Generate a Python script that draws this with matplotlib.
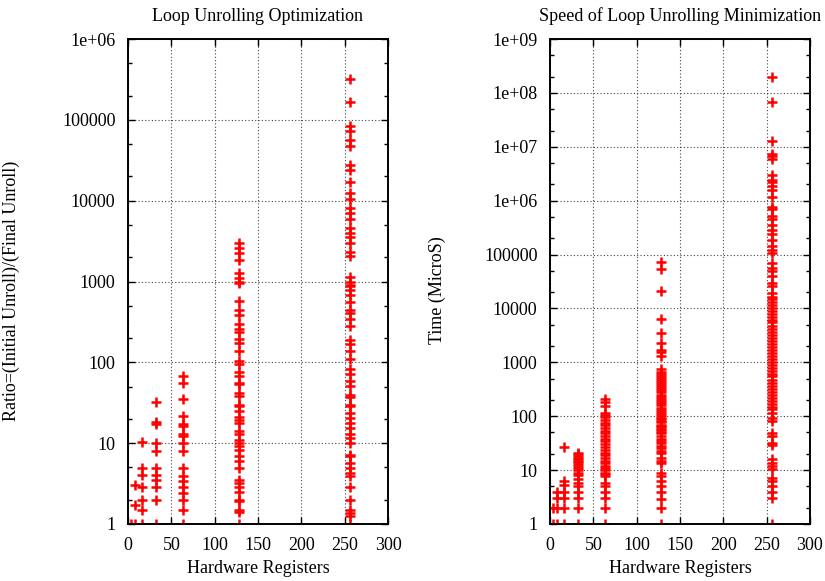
import numpy as np
import matplotlib
matplotlib.use("Agg")
from matplotlib import pyplot as plt
from matplotlib.ticker import LogLocator, FixedLocator, NullFormatter, FixedFormatter

# Left panel: Ratio=(Initial Unroll)/(Final Unroll) per register count
ratio_x4 = [1]
ratio_x8 = [1, 1.7, 3]
ratio_x16 = [1, 1.5, 2, 2.9, 4, 4.9, 10.4]
ratio_x32 = [1, 2, 2.9, 3.5, 4, 4.9, 8, 10, 17.5, 18.3, 32]
ratio_x64 = [1, 1.5, 2, 2.4, 2.9, 3.4, 3.9, 4.9, 8, 10, 12.2, 12.9, 16.3,
             17.5, 21.5, 35, 55, 68]
ratio_x128 = [1, 1.4, 1.5, 1.9, 2, 2.5, 2.9, 3.2, 3.5, 4.9, 6, 6.9, 8.3, 9.2,
              10, 11, 13, 14, 18, 19.5, 21, 25, 29, 30, 38, 42, 54, 56, 68, 75,
              95, 104, 138, 175, 195, 235, 255, 295, 390, 450, 570, 950, 1000,
              1100, 1270, 1850, 2250, 2600, 3000]
ratio_x256 = [1, 1.24, 1.37, 1.5, 2, 2.9, 3.9, 4.3, 4.9, 5.7, 6.9, 7.2, 10,
              11.6, 12.9, 15.5, 18, 20.5, 23.5, 29, 30, 37, 40, 51, 59, 71, 82,
              109, 138, 167, 190, 280, 340, 410, 450, 550, 690, 790, 870, 910,
              1000, 1150, 2050, 2300, 3000, 3600, 4000, 4600, 5900, 7100, 8100,
              10500, 12500, 17000, 24000, 27500, 47000, 57000, 72000, 83000,
              166000, 320000]

# Right panel: Time (MicroS) per register count
time_x4 = [1, 2]
time_x8 = [1, 2, 3, 4]
time_x16 = [1, 2, 3, 4, 5.2, 6.2, 27]
time_x32 = [1, 2, 3, 4, 5, 5.8, 6.9, 8, 9, 10, 11, 12, 13, 14, 15, 16, 17,
            18.5, 20, 21]
time_x64 = [1, 2, 3, 4, 5, 5.8, 7.7, 8.3, 9, 10, 11, 12, 13.5, 15, 17, 19, 21,
            24, 27, 30, 34, 38, 43, 48, 54, 60, 68, 75, 85, 95, 105, 117, 155,
            180, 205]
time_x128 = [1, 2, 2.9, 4, 5, 6.2, 7.7, 8.9, 13.6, 14.7, 17, 21, 23, 26, 28,
             32, 35, 38, 43, 48, 52, 55, 58, 62, 66, 70, 78, 82, 88, 92, 100,
             110, 120, 130, 145, 160, 175, 190, 210, 230, 250, 280, 310, 340,
             370, 400, 440, 480, 520, 560, 600, 650, 750, 1330, 1550, 1700,
             2300, 3500, 6300, 21000, 53000, 73000]
time_x256 = [1, 3, 4, 5, 6.2, 7.2, 10.3, 11.8, 13.6, 16, 29, 32, 43, 48, 81,
             94, 117, 135, 150, 170, 195, 220, 250, 280, 320, 370, 420, 480,
             550, 620, 700, 800, 900, 1000, 1150, 1300, 1500, 1700, 1900, 2200,
             2500, 2800, 3200, 3700, 4200, 4800, 5500, 6200, 7000, 8000, 9000,
             10000, 11500, 13000, 15000, 16000, 19000, 26000, 30000, 40000,
             49000, 57000, 70000, 107000, 124000, 142000, 190000, 240000,
             290000, 360000, 450000, 520000, 700000, 760000, 1150000, 1550000,
             1850000, 2200000, 2400000, 3000000, 6000000, 6800000, 7500000,
             12700000, 69000000, 194000000]

REGS = [4, 8, 16, 32, 64, 128, 256]
RATIO = [ratio_x4, ratio_x8, ratio_x16, ratio_x32, ratio_x64, ratio_x128, ratio_x256]
TIME = [time_x4, time_x8, time_x16, time_x32, time_x64, time_x128, time_x256]

x_ticks = [0, 50, 100, 150, 200, 250, 300]

plt.rcParams['font.family'] = ['Liberation Serif', 'DejaVu Serif']
plt.rcParams['font.size'] = 13

fig = plt.figure(figsize=(8.25, 5.81), dpi=100)
ax_l = fig.add_axes([128/825, 57/581, 260/825, 485/581])
ax_r = fig.add_axes([550/825, 57/581, 260/825, 485/581])

def draw_panel(ax, groups, ymax, title, ylabel):
    for reg, vals in zip(REGS, groups):
        ax.plot([reg]*len(vals), vals, linestyle='none', marker='+',
                color='#ff0000', markersize=7, markeredgewidth=1.8)
    ax.set_yscale('log')
    ax.set_xlim(0, 300)
    ax.set_ylim(1, ymax)
    ax.xaxis.set_major_locator(FixedLocator(x_ticks))
    ax.yaxis.set_minor_locator(LogLocator(base=10, subs=[2, 5], numticks=20))
    ax.yaxis.set_minor_formatter(NullFormatter())
    decs = int(round(np.log10(ymax)))
    labs = []
    for d in range(decs + 1):
        v = 10 ** d
        labs.append('%d' % v if d < 6 else '1e+%02d' % d)
    ax.yaxis.set_major_locator(FixedLocator([10 ** d for d in range(decs + 1)]))
    ax.yaxis.set_major_formatter(FixedFormatter(labs))
    ax.tick_params(which='both', direction='in', top=True, right=True,
                   width=1.0, color='black', labelsize=13)
    ax.tick_params(which='major', length=5, pad=9)
    ax.tick_params(which='minor', length=3)
    ax.grid(True, which='major', linestyle=(0, (1, 2)), color='#444444',
            linewidth=0.8)
    for s in ax.spines.values():
        s.set_linewidth(1.4)
    ax.set_title(title, fontsize=13, pad=13)
    ax.set_xlabel('Hardware Registers', fontsize=13, labelpad=5)
    ax.set_ylabel(ylabel, fontsize=13)

draw_panel(ax_l, RATIO, 1e6, 'Loop Unrolling Optimization',
           'Ratio=(Initial Unroll)/(Final Unroll)')
draw_panel(ax_r, TIME, 1e9, 'Speed of Loop Unrolling Minimization',
           'Time (MicroS)')

ax_l.yaxis.set_label_coords(20/825, 0.5, transform=fig.transFigure)
ax_r.yaxis.set_label_coords(446/825, 0.5, transform=fig.transFigure)

plt.savefig('out.png', dpi=100)
